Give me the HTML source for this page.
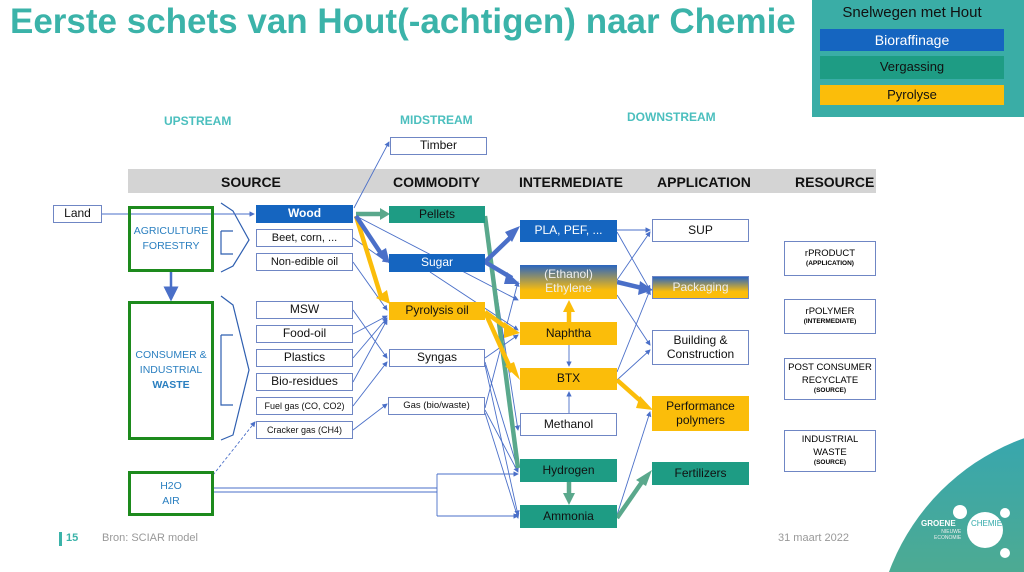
<!DOCTYPE html>
<html><head><meta charset="utf-8"><style>
*{margin:0;padding:0;box-sizing:border-box}
html,body{width:1024px;height:572px;overflow:hidden}
body{position:relative;background:#fff;font-family:"Liberation Sans",sans-serif}
.a{position:absolute}
.b{position:absolute;display:flex;align-items:center;justify-content:center;text-align:center;font-size:12px;color:#111;border:1px solid #6f86c4;background:#fff;line-height:1.15}
.blue{background:#1565c0;color:#fff;border-color:#1565c0}
.teal{background:#1e9c84;color:#111;border-color:#1e9c84}
.yel{background:#fbbd0a;color:#111;border-color:#fbbd0a}
.g{position:absolute;border:3px solid #1d8a1d;display:flex;align-items:center;justify-content:center;text-align:center;color:#2a7fc0;font-size:10.5px;line-height:1.4}
.h{position:absolute;font-weight:bold;font-size:14px;color:#111}
.s{position:absolute;font-weight:bold;font-size:12px;color:#4bbfbe}
.r{position:absolute;border:1px solid #6f86c4;text-align:center;font-size:9.5px;line-height:1.3;display:flex;flex-direction:column;justify-content:center}
.r small{font-size:6.5px;font-weight:bold}
</style></head><body>
<div class="a" style="left:10px;top:2px;font-size:35px;font-weight:bold;color:#3bb3a9;white-space:nowrap">Eerste schets van Hout(-achtigen) naar Chemie</div>
<div class="a" style="left:812px;top:0;width:212px;height:117px;background:#3aada6"></div>
<div class="a" style="left:812px;top:4px;width:200px;text-align:center;font-size:15px;color:#111">Snelwegen met Hout</div>
<div class="b blue" style="left:820px;top:29px;width:184px;height:22px;font-size:14px">Bioraffinage</div>
<div class="b teal" style="left:820px;top:56px;width:184px;height:23px;font-size:13px">Vergassing</div>
<div class="b yel" style="left:820px;top:85px;width:184px;height:20px;font-size:13px">Pyrolyse</div>

<div class="s" style="left:164px;top:114px">UPSTREAM</div>
<div class="s" style="left:400px;top:113px">MIDSTREAM</div>
<div class="s" style="left:627px;top:110px">DOWNSTREAM</div>

<div class="a" style="left:128px;top:169px;width:748px;height:24px;background:#d4d4d4"></div>
<div class="h" style="left:221px;top:174px">SOURCE</div>
<div class="h" style="left:393px;top:174px">COMMODITY</div>
<div class="h" style="left:519px;top:174px">INTERMEDIATE</div>
<div class="h" style="left:657px;top:174px">APPLICATION</div>
<div class="h" style="left:795px;top:174px">RESOURCE</div>

<svg class="a" style="left:0;top:0;overflow:hidden" width="1024" height="572">
<defs>
<marker id="m" markerWidth="6" markerHeight="6" refX="5" refY="3" orient="auto"><path d="M0,0L6,3L0,6z" fill="#4a6fc8"/></marker>
<linearGradient id="lg" x1="0" y1="0" x2="0" y2="1"><stop offset="0" stop-color="#36a6b0"/><stop offset="1" stop-color="#7cb356"/></linearGradient>
</defs>
<circle cx="1100" cy="650" r="225" fill="url(#lg)"/>
<circle cx="960" cy="512" r="7" fill="#fff"/><circle cx="1005" cy="513" r="5" fill="#fff"/><circle cx="985" cy="530" r="18" fill="#fff"/><circle cx="1005" cy="553" r="5" fill="#fff"/>
<g fill="none" stroke="#2f5fb0" stroke-width="1.2">
<path d="M221,203 L233,211 L249,240 L233,266 L221,272 M221,231 L221,254 L233,254 M221,231 L233,231"/>
<path d="M221,296 L233,305 L249,370 L233,435 L221,440 M221,335 L221,405 L233,405 M221,335 L233,335"/>
</g>
<g fill="none" stroke="#4a6fc8" stroke-width="0.9" marker-end="url(#m)">
<path d="M102,214 L254,214"/>
<path d="M171,272 L171,299" stroke-width="2.5"/>
<path d="M354,208 L389,142"/>
<path d="M353,238 L387,262"/>
<path d="M353,262 L387,310"/>
<path d="M353,310 L387,358"/>
<path d="M353,334 L387,316"/>
<path d="M353,358 L387,318"/>
<path d="M353,382 L387,320"/>
<path d="M353,406 L387,362"/>
<path d="M353,430 L387,404"/>
<path d="M213,475 L255,422" stroke-dasharray="3,2"/>
<path d="M356,216 L518,300"/>
<path d="M430,272 L518,330"/>
<path d="M485,358 L518,335"/>
<path d="M485,362 L518,470"/>
<path d="M485,365 L518,515"/>
<path d="M485,408 L518,282"/>
<path d="M485,410 L518,472"/>
<path d="M485,413 L518,518"/>
<path d="M485,218 L518,430"/>
<path d="M569,345 L569,366"/>
<path d="M569,413 L569,392"/>
<path d="M617,230 L650,230"/>
<path d="M617,232 L650,290"/>
<path d="M617,280 L650,232"/>
<path d="M617,295 L650,345"/>
<path d="M617,372 L650,290"/>
<path d="M617,380 L650,350"/>
<path d="M617,515 L650,412"/>
<path d="M437,474 L518,474"/>
<path d="M437,516 L518,516"/>
</g>
<path d="M213,488 L437,488 M213,492 L437,492 M437,474 L437,516" stroke="#4a6fc8" stroke-width="0.9" fill="none"/>
<g fill="none" stroke-width="4.5">
<path d="M485,216 L518,468" stroke="#5aa88c"/>
<path d="M356,214 L380,214" stroke="#5aa88c"/>
<path d="M356,216 L382,300" stroke="#fbbd0a"/>
<path d="M485,312 L510,330" stroke="#fbbd0a"/>
<path d="M485,312 L512,372" stroke="#fbbd0a"/>
<path d="M617,380 L644,404" stroke="#fbbd0a"/>
<path d="M569,322 L569,310" stroke="#fbbd0a"/>
<path d="M356,216 L382,255" stroke="#4a6fc8"/>
<path d="M485,262 L512,236" stroke="#4a6fc8"/>
<path d="M485,262 L512,278" stroke="#4a6fc8"/>
<path d="M617,282 L642,288" stroke="#4a6fc8"/>
<path d="M569,482 L569,494" stroke="#5aa88c"/>
<path d="M617,518 L642,482" stroke="#5aa88c"/>
</g>
<g>
<path d="M380,208 L390,214 L380,220z" fill="#5aa88c"/>
<path d="M376,298 L390,304 L387,290z" fill="#fbbd0a"/>
<path d="M504,322 L520,333 L504,338z" fill="#fbbd0a"/>
<path d="M505,366 L520,380 L514,362z" fill="#fbbd0a"/>
<path d="M640,396 L653,410 L636,408z" fill="#fbbd0a"/>
<path d="M563,312 L569,300 L575,312z" fill="#fbbd0a"/>
<path d="M376,254 L390,264 L386,248z" fill="#4a6fc8"/>
<path d="M505,232 L520,226 L512,242z" fill="#4a6fc8"/>
<path d="M507,272 L520,284 L504,284z" fill="#4a6fc8"/>
<path d="M640,281 L653,290 L638,295z" fill="#4a6fc8"/>
<path d="M563,493 L569,505 L575,493z" fill="#5aa88c"/>
<path d="M636,480 L652,470 L646,486z" fill="#5aa88c"/>
</g>
</svg>

<div class="b" style="left:53px;top:205px;width:49px;height:18px">Land</div>
<div class="g" style="left:128px;top:206px;width:86px;height:66px"><div>AGRICULTURE<br>FORESTRY</div></div>
<div class="g" style="left:128px;top:301px;width:86px;height:139px"><div>CONSUMER &amp;<br>INDUSTRIAL<br><b>WASTE</b></div></div>
<div class="g" style="left:128px;top:471px;width:86px;height:45px"><div>H2O<br>AIR</div></div>

<div class="b blue" style="left:256px;top:205px;width:97px;height:18px;font-weight:bold">Wood</div>
<div class="b" style="left:256px;top:229px;width:97px;height:18px;font-size:11px">Beet, corn, ...</div>
<div class="b" style="left:256px;top:253px;width:97px;height:18px;font-size:11px">Non-edible oil</div>
<div class="b" style="left:256px;top:301px;width:97px;height:18px">MSW</div>
<div class="b" style="left:256px;top:325px;width:97px;height:18px">Food-oil</div>
<div class="b" style="left:256px;top:349px;width:97px;height:18px">Plastics</div>
<div class="b" style="left:256px;top:373px;width:97px;height:18px">Bio-residues</div>
<div class="b" style="left:256px;top:397px;width:97px;height:18px;font-size:9px">Fuel gas (CO, CO2)</div>
<div class="b" style="left:256px;top:421px;width:97px;height:18px;font-size:9px">Cracker gas (CH4)</div>

<div class="b" style="left:390px;top:137px;width:97px;height:18px">Timber</div>
<div class="b teal" style="left:389px;top:206px;width:96px;height:17px">Pellets</div>
<div class="b blue" style="left:389px;top:254px;width:96px;height:18px">Sugar</div>
<div class="b yel" style="left:389px;top:302px;width:96px;height:18px">Pyrolysis oil</div>
<div class="b" style="left:389px;top:349px;width:96px;height:18px">Syngas</div>
<div class="b" style="left:388px;top:397px;width:97px;height:18px;font-size:9.5px">Gas (bio/waste)</div>

<div class="b blue" style="left:520px;top:220px;width:97px;height:22px">PLA, PEF, ...</div>
<div class="b" style="left:520px;top:265px;width:97px;height:34px;border:none;color:#eee;background:linear-gradient(#2a65c0,#fbbd0a 75%)"><div>(Ethanol)<br>Ethylene</div></div>
<div class="b yel" style="left:520px;top:322px;width:97px;height:23px">Naphtha</div>
<div class="b yel" style="left:520px;top:368px;width:97px;height:22px">BTX</div>
<div class="b" style="left:520px;top:413px;width:97px;height:23px">Methanol</div>
<div class="b teal" style="left:520px;top:459px;width:97px;height:23px">Hydrogen</div>
<div class="b teal" style="left:520px;top:505px;width:97px;height:23px">Ammonia</div>

<div class="b" style="left:652px;top:219px;width:97px;height:23px">SUP</div>
<div class="b" style="left:652px;top:276px;width:97px;height:23px;color:#eee;background:linear-gradient(#2a65c0,#fbbd0a 70%)">Packaging</div>
<div class="b" style="left:652px;top:330px;width:97px;height:35px"><div>Building &amp;<br>Construction</div></div>
<div class="b yel" style="left:652px;top:396px;width:97px;height:35px"><div>Performance<br>polymers</div></div>
<div class="b teal" style="left:652px;top:462px;width:97px;height:23px">Fertilizers</div>

<div class="r" style="left:784px;top:241px;width:92px;height:35px">rPRODUCT<small>(APPLICATION)</small></div>
<div class="r" style="left:784px;top:299px;width:92px;height:35px">rPOLYMER<small>(INTERMEDIATE)</small></div>
<div class="r" style="left:784px;top:358px;width:92px;height:42px"><div>POST CONSUMER<br>RECYCLATE</div><small>(SOURCE)</small></div>
<div class="r" style="left:784px;top:430px;width:92px;height:42px"><div>INDUSTRIAL<br>WASTE</div><small>(SOURCE)</small></div>

<div class="a" style="left:59px;top:532px;width:3px;height:14px;background:#3bb3a9"></div>
<div class="a" style="left:66px;top:532px;font-size:11px;font-weight:bold;color:#3bb3a9">15</div>
<div class="a" style="left:102px;top:532px;font-size:11px;color:#999">Bron: SCIAR model</div>
<div class="a" style="left:778px;top:532px;font-size:11px;color:#999">31 maart 2022</div>
<div class="a" style="left:921px;top:519px;font-size:8px;font-weight:bold;color:#fff">GROENE</div>
<div class="a" style="left:971px;top:519px;font-size:8px;color:#3aa;">CHEMIE</div>
<div class="a" style="left:934px;top:530px;font-size:5px;color:#eee;text-align:right;line-height:1.1">NIEUWE<br>ECONOMIE</div>
</body></html>
